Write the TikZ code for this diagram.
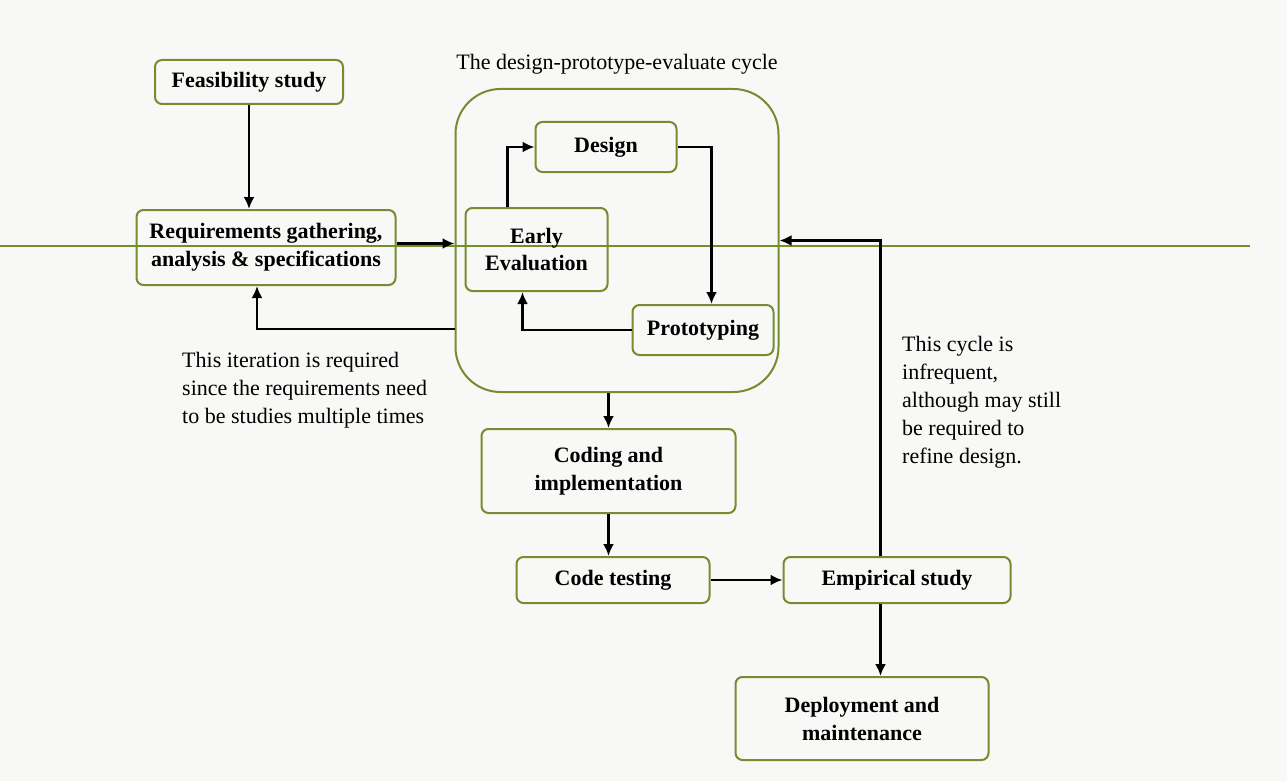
\documentclass[tikz,border=0pt]{standalone}
\usepackage{fontspec}
\setmainfont{Liberation Serif}
\usetikzlibrary{shapes.geometric, arrows, arrows.meta, positioning}
\definecolor{leafgreen}{RGB}{118,140,48}
\definecolor{paper}{RGB}{248,248,246}
\tikzstyle{stage} = [
	rectangle, 
	rounded corners=7pt, 
	align=center, 
	text centered, 
	draw=leafgreen, 
	line width=2pt,
	font=\fontsize{22}{28}\selectfont\bfseries]
\tikzstyle{cyclebox} = [
	rectangle, 
	rounded corners=45pt, 
	minimum width=323pt,
	minimum height=303pt, 
	draw=leafgreen, 
	line width=2pt]
\tikzstyle{note} = [
	align=left, 
	inner sep=2pt]
\tikzstyle{arrow} = [-{Latex[length=12pt, width=11pt]}, line width=2.5pt]

\begin{document}
\begin{tikzpicture}[x=1pt, y=-1pt, font=\fontsize{22}{28}\selectfont]

\fill [paper] (0,0) rectangle (1287,781);
\useasboundingbox (0,0) rectangle (1287,781);
\draw [leafgreen, line width=1.5pt] (0,246) -- (1250,246);

% --- Nodes ---
\node (feas) [stage, minimum width=188pt, minimum height=44pt] at (249,82) {Feasibility study};
\node (req) [stage, minimum width=259pt, minimum height=75pt, below=104pt of feas, xshift=17pt] {Requirements gathering, \\ analysis \& specifications};

\node (cycle) [cyclebox, right=58pt of req, yshift=7pt] {};
\node (cycletitle) [above=10pt of cycle] {The design-prototype-evaluate cycle};

\node (early) [stage, minimum width=142pt, minimum height=83pt, right=10pt of cycle.west, yshift=-9pt] {Early \\ Evaluation};
\node (design) [stage, minimum width=141pt, minimum height=50pt, above=34pt of early, xshift=69.5pt] {Design};
\node (proto) [stage, minimum width=141pt, minimum height=50pt, right=23pt of early, yshift=-80.5pt] {Prototyping};

\node (coding) [stage, minimum width=254pt, minimum height=84pt, below=35pt of cycle, xshift=-8.5pt] {Coding and \\ implementation};
\node (test) [stage, minimum width=193pt, minimum height=46pt, below=42pt of coding, xshift=4.5pt] {Code testing};
\node (emp) [stage, minimum width=227pt, minimum height=46pt, right=72pt of test] {Empirical study};
\node (deploy) [stage, minimum width=253pt, minimum height=83pt, below=72pt of emp, xshift=-35pt] {Deployment and \\ maintenance};

\node (iternote) [note, anchor=west] at (180,390) {This iteration is required \\ since the requirements need \\ to be studies multiple times};
\node (cyclenote) [note, anchor=west] at (900,402.5) {This cycle is \\ infrequent, \\ although may still \\ be required to \\ refine design.};

% --- Arrows ---
\draw [arrow] (feas) -- (feas |- req.north);
\draw [arrow] ([yshift=4pt]req.east) -- ([yshift=4pt]req.east -| cycle.west);

\draw [arrow] ([xshift=-29pt]early.north) |- (design.west);
\draw [arrow] (design.east) -| ([xshift=8.5pt]proto.north);
\draw [arrow] (proto.west) -| ([xshift=-14pt]early.south);

\draw [arrow] ([yshift=-88.5pt]cycle.west) -| ([xshift=-9pt]req.south);

\draw [arrow] (coding.north |- cycle.south) -- (coding.north);
\draw [arrow] (coding.south) -- (coding.south |- test.north);
\draw [arrow] (test.east) -- (emp.west);

\draw [arrow] ([xshift=-16.5pt]emp.north) |- (cycle.east);
\draw [arrow] ([xshift=-16.5pt]emp.south) -- ([xshift=-16.5pt]emp.south |- deploy.north);

\end{tikzpicture}
\end{document}
